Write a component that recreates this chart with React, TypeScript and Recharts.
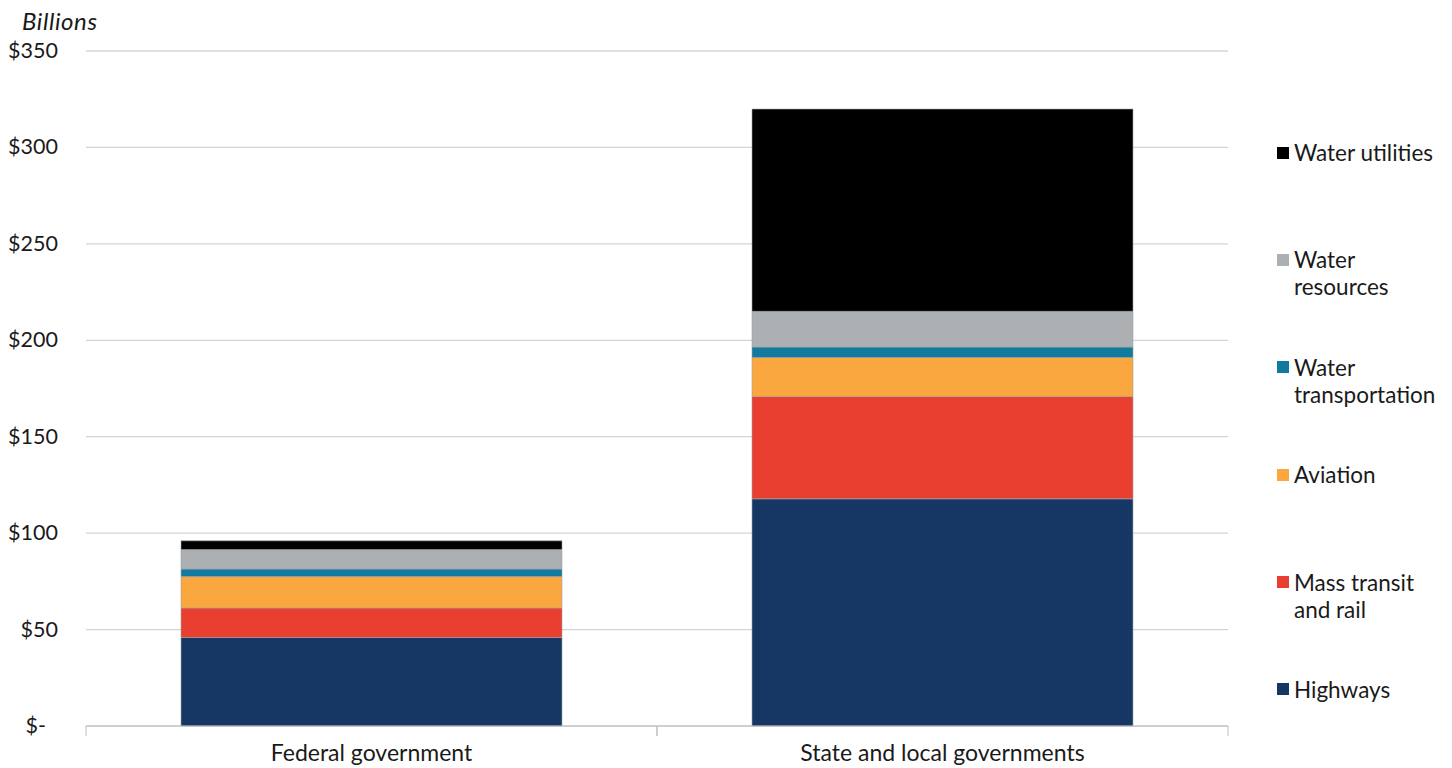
import { BarChart, Bar, XAxis, YAxis, CartesianGrid } from 'recharts'

const categories = ['Federal government', 'State and local governments']
const highways = [45.9, 117.8]
const massTransit = [15.3, 53.1]
const aviation = [16.3, 20.2]
const waterTransportation = [3.9, 5.4]
const waterResources = [10.1, 18.5]
const waterUtilities = [4.5, 104.9]
const yTicks = [0, 50, 100, 150, 200, 250, 300, 350]

const series = [
  { key: 'highways', name: 'Highways', label: 'Highways', color: '#163764', values: highways },
  { key: 'massTransit', name: 'Mass transit and rail', label: 'Mass transit\nand rail', color: '#e83f31', values: massTransit },
  { key: 'aviation', name: 'Aviation', label: 'Aviation', color: '#f9a73e', values: aviation },
  { key: 'waterTransportation', name: 'Water transportation', label: 'Water\ntransportation', color: '#12799f', values: waterTransportation },
  { key: 'waterResources', name: 'Water resources', label: 'Water\nresources', color: '#adb0b3', values: waterResources },
  { key: 'waterUtilities', name: 'Water utilities', label: 'Water utilities', color: '#000000', values: waterUtilities },
]

const data = categories.map((name, i) => {
  const row: Record<string, string | number> = { name }
  series.forEach((s) => {
    row[s.key] = s.values[i]
  })
  return row
})

const FONT = 'Lato, "Open Sans", sans-serif'
const HALF_BAND = 285.5

const CategoryTick = (props: any) => {
  const { x, y, payload } = props
  return (
    <g>
      <line x1={x - HALF_BAND} x2={x - HALF_BAND} y1={y - 8} y2={y + 2} stroke="#bfbfbf" />
      <line x1={x + HALF_BAND} x2={x + HALF_BAND} y1={y - 8} y2={y + 2} stroke="#bfbfbf" />
      <text x={x} y={y + 27} textAnchor="middle" fill="#1a1a1a" fontSize={23} fontFamily={FONT}>
        {payload.value}
      </text>
    </g>
  )
}

const ValueTick = (props: any) => {
  const { y, payload } = props
  const zero = payload.value === 0
  return (
    <text x={zero ? 38 : 50} y={y + 7} textAnchor="end" fill="#1a1a1a" fontSize={21.5} fontFamily={FONT}>
      {zero ? '$-' : `$${payload.value}`}
    </text>
  )
}

function SideLegend() {
  return (
    <div
      style={{
        position: 'absolute',
        left: 1269,
        top: 136,
        width: 175,
        fontFamily: FONT,
        fontSize: 22.5,
        color: '#1a1a1a',
      }}
    >
      {[...series].reverse().map((s) => (
        <div key={s.key} style={{ height: 107.4, display: 'flex', alignItems: 'flex-start' }}>
          <div style={{ width: 12, height: 12, background: s.color, marginTop: 2.5, marginRight: 5, flexShrink: 0 }} />
          <div style={{ whiteSpace: 'pre-line', lineHeight: '27px', marginTop: -5 }}>{s.label}</div>
        </div>
      ))}
    </div>
  )
}

export default function App() {
  return (
    <div style={{ position: 'relative', width: 1440, height: 760 }}>
      <div
        style={{
          position: 'absolute',
          left: 14,
          top: -2,
          fontFamily: FONT,
          fontStyle: 'italic',
          fontSize: 24,
          letterSpacing: 0.6,
          color: '#1a1a1a',
        }}
      >
        Billions
      </div>
      <SideLegend />
      <BarChart
        width={1440}
        height={760}
        data={data}
        margin={{ top: 43, right: 220, left: 0, bottom: 12 }}
      >
        <CartesianGrid vertical={false} stroke="#d4d4d4" strokeWidth={1.3} />
        <XAxis
          dataKey="name"
          axisLine={{ stroke: '#bfbfbf' }}
          tickLine={false}
          tick={<CategoryTick />}
          height={30}
          interval={0}
        />
        <YAxis
          width={78}
          domain={[0, 350]}
          ticks={yTicks}
          axisLine={false}
          tickLine={false}
          tick={<ValueTick />}
          interval={0}
        />
        {series.map((s) => (
          <Bar
            key={s.key}
            dataKey={s.key}
            name={s.name}
            stackId="a"
            fill={s.color}
            stroke="#9ea2a6"
            strokeWidth={0.6}
            barSize={381}
            isAnimationActive={false}
          />
        ))}
      </BarChart>
    </div>
  )
}
